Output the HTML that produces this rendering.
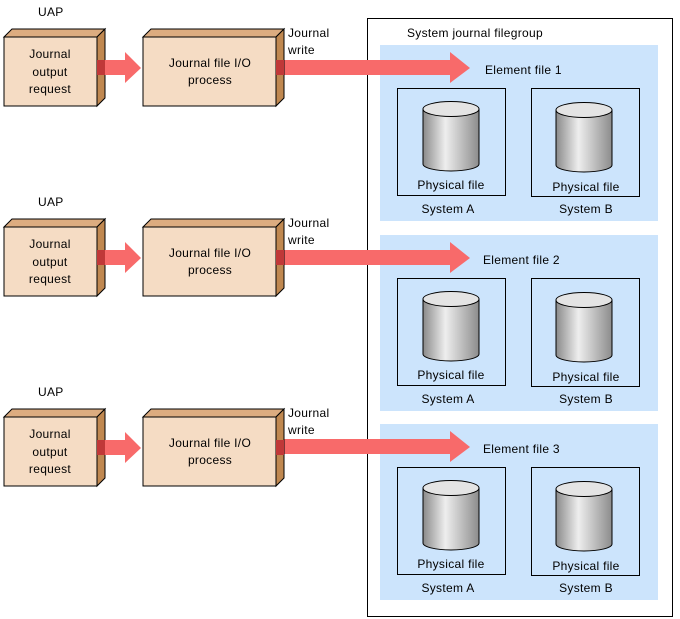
<!DOCTYPE html>
<html><head><meta charset="utf-8"><style>
html,body{margin:0;padding:0;background:#fff;width:680px;height:619px;overflow:hidden}
svg text{font-family:"Liberation Sans",Arial,sans-serif;font-size:12px;fill:#000;letter-spacing:0.3px}
</style></head><body>
<svg width="680" height="619" viewBox="0 0 680 619" xmlns="http://www.w3.org/2000/svg">
<defs>
<linearGradient id="cyl" x1="0" x2="1" y1="0" y2="0">
<stop offset="0" stop-color="#8a8a8a"/><stop offset="0.4" stop-color="#eeeeee"/><stop offset="1" stop-color="#8c8c8c"/>
</linearGradient>
<g id="row">
<text x="38" y="16">UAP</text>
<polygon points="4,37 12,29 105,29 97,37" fill="#dcac80" stroke="#000"/>
<polygon points="97,37 105,29 105,98 97,106" fill="#c08850" stroke="#000"/>
<rect x="4" y="37" width="93" height="69" fill="#f5dcc4" stroke="#000"/>
<text x="50" y="58" text-anchor="middle">Journal</text>
<text x="50" y="76" text-anchor="middle">output</text>
<text x="50" y="93" text-anchor="middle">request</text>
<polygon points="97,60 125,60 125,52 141,68 125,83 125,75 97,75" fill="#f86a6a"/>
<rect x="97" y="60" width="8" height="15" fill="#c03838"/>
<polygon points="143,37 151,29 284,29 276,37" fill="#dcac80" stroke="#000"/>
<polygon points="276,37 284,29 284,98 276,106" fill="#c08850" stroke="#000"/>
<rect x="143" y="37" width="133" height="69" fill="#f5dcc4" stroke="#000"/>
<rect x="276" y="60" width="8" height="15" fill="#c03838"/>
<text x="210" y="67" text-anchor="middle">Journal file I/O</text>
<text x="210" y="84" text-anchor="middle">process</text>
<text x="288" y="37">Journal</text>
<text x="288" y="54">write</text>
</g>
<g id="panelbody">
<polygon points="284,60 450,60 450,52 470,68 450,83 450,75 284,75" fill="#f86a6a"/>
<rect x="397.5" y="88.5" width="108" height="107" fill="none" stroke="#000"/>
<rect x="531.5" y="88.5" width="108" height="108" fill="none" stroke="#000"/>
<path d="M423,109 L423,164 A28,7 0 0 0 479,164 L479,109" fill="url(#cyl)" stroke="#000"/>
<ellipse cx="451" cy="109" rx="28" ry="7.5" fill="#e4e4e4" stroke="#000"/>
<path d="M556,110 L556,165 A28,7 0 0 0 612,165 L612,110" fill="url(#cyl)" stroke="#000"/>
<ellipse cx="584" cy="110" rx="28" ry="7.5" fill="#e4e4e4" stroke="#000"/>
<text x="451" y="189" text-anchor="middle">Physical file</text>
<text x="586" y="191" text-anchor="middle">Physical file</text>
<text x="448" y="213" text-anchor="middle">System A</text>
<text x="586" y="213" text-anchor="middle">System B</text>
</g>
</defs>
<rect x="367.5" y="18.5" width="305" height="598" fill="#fff" stroke="#000"/>
<text x="407" y="37">System journal filegroup</text>
<rect x="380" y="45" width="278" height="176" fill="#cce4fc"/>
<use href="#panelbody"/>
<text x="485" y="74">Element file 1</text>
<g transform="translate(0,190)">
<rect x="380" y="45" width="278" height="176" fill="#cce4fc"/>
<use href="#panelbody"/>
<text x="483" y="74">Element file 2</text>
</g>
<g transform="translate(0,379)">
<rect x="380" y="45" width="278" height="176" fill="#cce4fc"/>
<use href="#panelbody"/>
<text x="483" y="74">Element file 3</text>
</g>
<use href="#row"/>
<use href="#row" transform="translate(0,190)"/>
<use href="#row" transform="translate(0,380)"/>
</svg>
</body></html>
